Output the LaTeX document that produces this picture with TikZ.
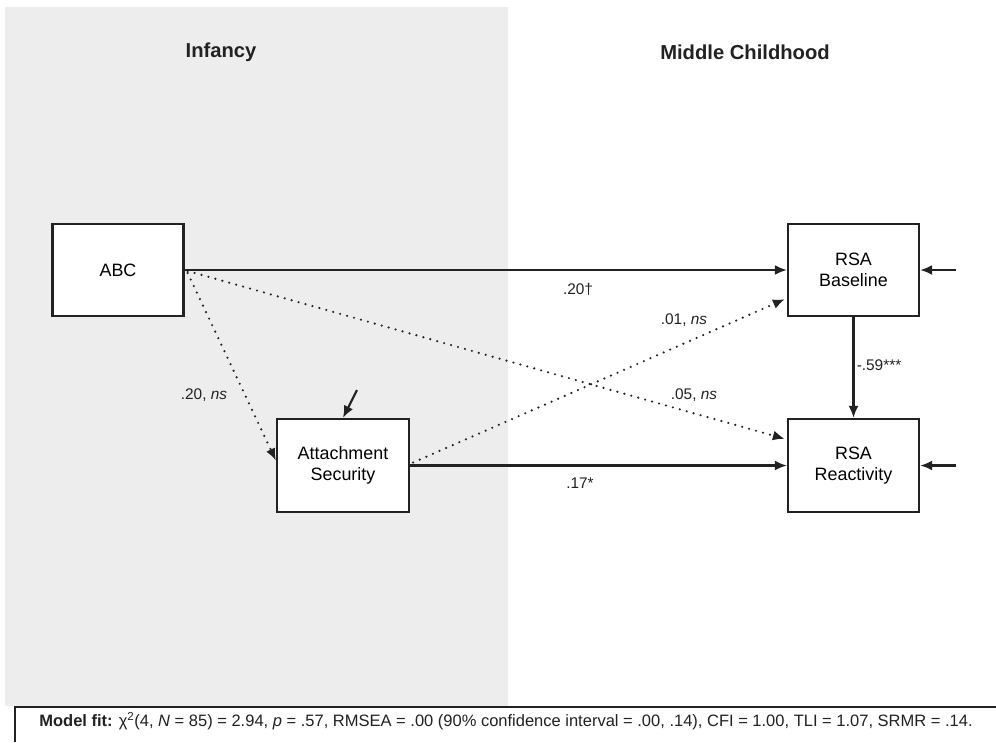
\documentclass[tikz,border=0pt]{standalone}
\usepackage{fontspec}
\setmainfont{Liberation Sans}
\usetikzlibrary{arrows.meta,calc}
\definecolor{panelgray}{HTML}{EDEDED}
\definecolor{ink}{HTML}{222222}
\begin{document}
\begin{tikzpicture}[x=1pt,y=-1pt,
  box/.style={draw=ink,line width=2.3pt,fill=white,minimum width=131pt,minimum height=92pt,align=center,font=\fontsize{17.9}{21.5}\selectfont,inner sep=0pt},
  path/.style={draw=ink,line width=2.1pt,-{Latex[length=12pt,width=10pt]}},
  dotpath/.style={draw=ink,line width=2.4pt,line cap=round,dash pattern=on 0pt off 7.2pt,-{Latex[length=12pt,width=10pt]}},
  lab/.style={font=\fontsize{15.4}{18}\selectfont,text=ink,inner sep=0pt},
  ttl/.style={font=\fontsize{20.2}{24}\selectfont\bfseries,text=ink,inner sep=0pt}]
\useasboundingbox (0,0) rectangle (996,742);
\fill[white] (0,0) rectangle (996,742);
\fill[panelgray] (5,7) rectangle (508,706);
\draw[ink,line width=1.6pt] (15,742) -- (15,707) -- (996,707);

\node[ttl] (t1) at (221,52) {Infancy};
\node[ttl] (t2) at (745,52) {Middle Childhood};

\node[box] (abc) at (118,270) {ABC};
\node[box,minimum width=132pt,minimum height=93pt] (att) at (343,465.5) {Attachment\\Security};
\node[box] (base) at (853.5,270) {RSA\\Baseline};
\node[box,minimum height=93pt] (react) at (853.5,465.5) {RSA\\Reactivity};

\coordinate (eb) at (956,270);
\coordinate (er) at (956,465.5);
\coordinate (ea) at (357,390);

\draw[path] (abc.east) -- (base.west);
\draw[path] (att.east) -- (react.west);
\draw[path] (base.south) -- (react.north);
\draw[path] (eb) -- (base.east);
\draw[path] (er) -- (react.east);
\draw[path] (ea) -- (att.north);

\draw[dotpath] ($(abc.east)+(3,3)$) -- ($(att.west)+(0,-5)$);
\draw[dotpath] ($(abc.east)+(3,1)$) -- ($(react.north west)+(-2,21)$);
\draw[dotpath] ($(att.east)+(3,-3)$) -- ($(base.south west)+(-2,-18)$);

\node[lab] (l1) at (578,289) {.20†};
\node[lab] (l2) at (684,320) {.01, \textit{ns}};
\node[lab] (l3) at (694,395) {.05, \textit{ns}};
\node[lab] (l4) at (580,483) {.17*};
\node[lab] (l5) at (879,365) {-.59***};
\node[lab] (l6) at (204,395) {.20, \textit{ns}};

\node[lab,font=\fontsize{16.5}{19}\selectfont] (fit) at (506,721) {\textbf{Model fit:} χ\textsuperscript{2}(4, \textit{N} = 85) = 2.94, \textit{p} = .57, RMSEA = .00 (90\% confidence interval = .00, .14), CFI = 1.00, TLI = 1.07, SRMR = .14.};
\end{tikzpicture}
\end{document}
